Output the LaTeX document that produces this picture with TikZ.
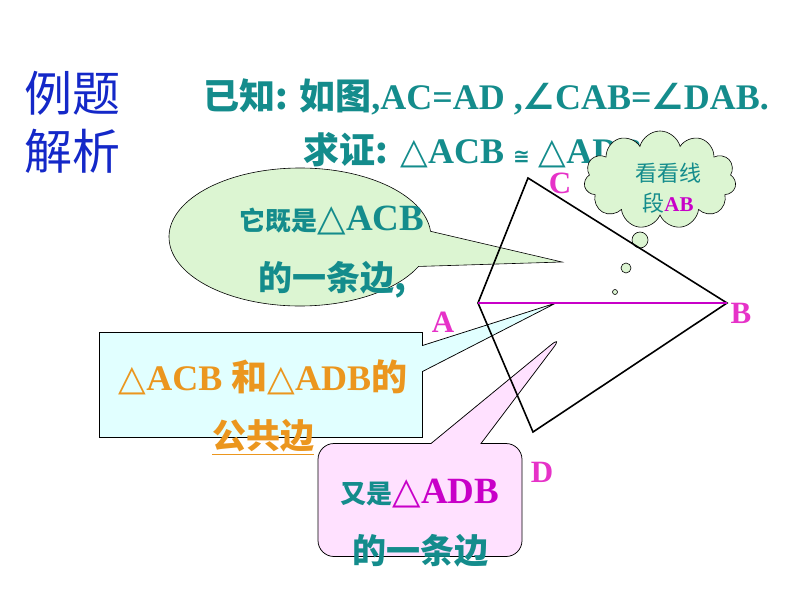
\documentclass[tikz,border=0pt]{standalone}
\usepackage{fontspec}
\setmainfont{Liberation Serif}
\newfontfamily\cjk{Noto Sans CJK SC}
\newfontfamily\sym{DejaVu Sans}
\usetikzlibrary{shapes.callouts,shapes.symbols}
\definecolor{teal1}{RGB}{20,140,140}
\definecolor{blue1}{RGB}{20,40,200}
\definecolor{orange1}{RGB}{235,150,30}
\definecolor{mag1}{RGB}{200,0,200}
\definecolor{pt1}{RGB}{230,50,200}
\definecolor{green1}{RGB}{220,245,210}
\definecolor{cyan1}{RGB}{225,255,255}
\definecolor{pink1}{RGB}{255,225,255}
\newcommand{\tri}{{\sym\mdseries △}}
\tikzset{every picture/.style={line width=0.75pt}}
\tikzset{
  ptlabel/.style={text=pt1,font=\fontsize{31}{31}\selectfont\bfseries},
  side/.style={line width=1.6pt},
  bubble/.style={draw,fill=green1,line width=0.6pt}
}
\begin{document}
\begin{tikzpicture}[x=1pt,y=-1pt]
\useasboundingbox (0,0) rectangle (794,596);
\node[text=blue1,font=\cjk\fontsize{48}{48}\selectfont] (t1) at (72,93) {例题};
\node[text=blue1,font=\cjk\fontsize{48}{48}\selectfont] (t2) at (72,151) {解析};
\node[text=teal1,font=\fontsize{36}{36}\selectfont\bfseries,anchor=west] (given) at (200,97)
  {{\cjk 已知:  如图}{,}AC=AD ,{\sym ∠}CAB={\sym ∠}DAB.};
\node[text=teal1,font=\fontsize{36}{36}\selectfont\bfseries,anchor=west] (prove) at (300,150)
  {{\cjk 求证:}  \tri ACB {\sym\fontsize{20}{20}\selectfont ≅} \tri ADB};
% callouts
\coordinate (tipE) at (562,262);
\coordinate (tipR) at (556,303);
\coordinate (tipP) at (563,335);
\node[ellipse callout,bubble,minimum width=262,minimum height=138,
  callout absolute pointer=(tipE),callout pointer arc=30] (say1) at (300,237) {};
\node[rectangle callout,draw,fill=cyan1,minimum width=323,minimum height=105,
  callout absolute pointer=(tipR),callout pointer width=26] (say2) at (261,385) {};
\node[rectangle callout,draw,fill=pink1,rounded corners=16,minimum width=204,minimum height=113,
  callout absolute pointer=(tipP),callout pointer width=50] (say3) at (420,500) {};
\node[cloud,bubble,cloud puffs=11,minimum width=152,minimum height=98] (think) at (660,180) {};
\draw[bubble] (640,240) circle (8);
\draw[bubble] (626,268) circle (5);
\draw[bubble] (615,292) circle (2.5);
% figure
\coordinate (A) at (478,303);
\coordinate (B) at (727,303);
\coordinate (C) at (528,178);
\coordinate (D) at (533,432);
\draw[side] (A) -- (C) -- (B) -- (D) -- cycle;
\draw[mag1,line width=2.2pt] (A) -- (B);
\node[ptlabel] (lA) at (443,322) {A};
\node[ptlabel] (lB) at (741,313) {B};
\node[ptlabel] (lC) at (560,183) {C};
\node[ptlabel] (lD) at (542,472) {D};
% texts
\node[font=\bfseries,align=center] (txt1) at (332,252)
  {{\cjk\color{teal1}\fontsize{26}{26}\selectfont 它既是}{\color{teal1}\fontsize{37}{37}\selectfont \tri ACB}\\[26pt]
   {\cjk\color{teal1}\fontsize{34}{34}\selectfont 的一条边,}};
\node[font=\bfseries,align=center,text=orange1] (txt2) at (263,407)
  {\fontsize{36}{36}\selectfont \tri ACB {\cjk 和}\tri ADB{\cjk 的}\\[24pt]
   \fontsize{34}{34}\selectfont\underline{\cjk 公共边}};
\node[font=\bfseries,align=center] (txt3) at (420,523)
  {{\cjk\color{teal1}\fontsize{26}{26}\selectfont 又是}{\color{mag1}\fontsize{37}{37}\selectfont \tri ADB}\\[26pt]
   {\cjk\color{teal1}\fontsize{34}{34}\selectfont 的一条边}};
\node[align=center] (txt4) at (668,188)
  {{\cjk\color{teal1}\fontsize{22}{22}\selectfont 看看线}\\[8pt]
   {\cjk\color{teal1}\fontsize{22}{22}\selectfont 段}{\color{mag1}\bfseries\fontsize{21}{21}\selectfont AB}};
\end{tikzpicture}
\end{document}
